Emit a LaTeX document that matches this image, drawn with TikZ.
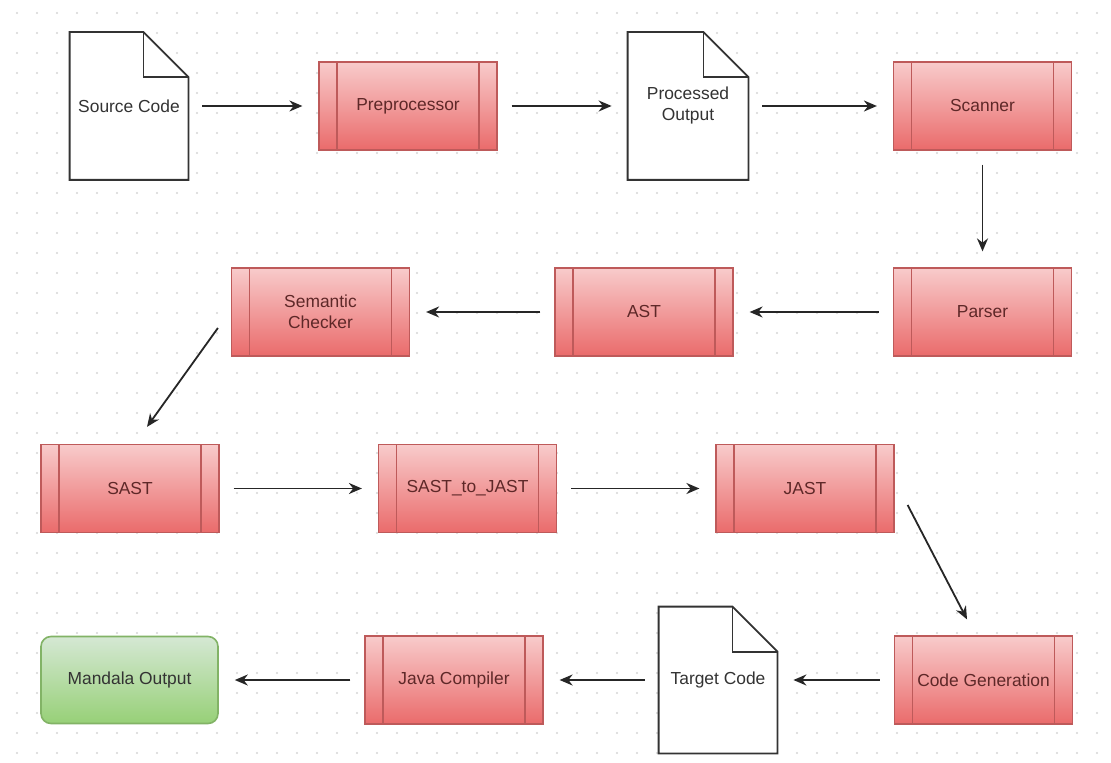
\documentclass[tikz,border=0pt]{standalone}
\usepackage{fontspec}
\setmainfont{Liberation Sans}
\usetikzlibrary{calc,arrows.meta}
\definecolor{redtop}{HTML}{F8CBCB}
\definecolor{redbot}{HTML}{EA6B6B}
\definecolor{redline}{HTML}{BE5A5A}
\definecolor{redtext}{HTML}{5E2828}
\definecolor{greentop}{HTML}{D5E8D4}
\definecolor{greenbot}{HTML}{97D077}
\definecolor{greenline}{HTML}{82B366}
\definecolor{doctext}{HTML}{333333}
\definecolor{griddot}{HTML}{D6D6D6}
\pgfdeclarelayer{gridlayer}
\pgfdeclarelayer{bglayer}
\pgfsetlayers{gridlayer,bglayer,main}
\begin{document}
\begin{tikzpicture}[x=0.5pt,y=-0.5pt,
  every node/.style={font=\fontsize{8.7}{10.5}\selectfont},
  procbox/.style={draw=redline, line width=0.6pt, top color=redtop, bottom color=redbot,
    minimum width=89pt, minimum height=44pt, inner sep=0pt, text=redtext, align=center,
    path picture={
      \draw[redline, line width=0.6pt] ($(path picture bounding box.north west)+(18,0)$) -- ($(path picture bounding box.south west)+(18,0)$);
      \draw[redline, line width=0.6pt] ($(path picture bounding box.north east)+(-18,0)$) -- ($(path picture bounding box.south east)+(-18,0)$);
    }},
  docbox/.style={minimum width=59pt, minimum height=73.5pt, inner sep=0pt, text=doctext, align=center},
  docline/.style={draw=doctext, fill=white, line width=0.9pt, line join=miter},
  okbox/.style={draw=greenline, line width=0.8pt, top color=greentop, bottom color=greenbot,
    rounded corners=5pt, minimum width=88.5pt, minimum height=43.5pt, inner sep=0pt, text=black!80},
  arr/.style={draw=black!85, line width=0.9pt, -{Stealth[length=6.5pt,width=5.5pt]}},
  gap/.style={shorten <=7pt, shorten >=8pt}
]
\begin{pgfonlayer}{gridlayer}
\fill[white] (0,0) rectangle (1111,763);
\foreach \gx in {17,37,...,1100}{
  \foreach \gy in {13,33,...,760}{
    \fill[griddot] (\gx,\gy) circle[radius=0.6pt];
  }
}
\end{pgfonlayer}
\useasboundingbox (0,0) rectangle (1111,763);

% documents
\node[docbox] (src) at (129,106) {Source Code};
\node[docbox, minimum width=60pt] (proc) at (688,106) {Processed\\Output};
\node[docbox, minimum height=73pt] (tgt) at (718,680) {Target Code};

% processes
\node[procbox] (pre) at (408,106) {Preprocessor};
\node[procbox] (scan) at (982.5,106) {Scanner};
\node[procbox] (parse) at (982.5,312) {Parser};
\node[procbox] (ast) at (644,312) {AST};
\node[procbox] (sem) at (320.5,312) {Semantic\\Checker};
\node[procbox] (sast) at (130,488.5) {SAST};
\node[procbox] (sj) at (467.5,488.5) {SAST\_to\_JAST};
\node[procbox] (jast) at (805,488.5) {JAST};
\node[procbox] (cg) at (983.5,680) {Code Generation};
\node[procbox] (java) at (454,680) {Java Compiler};
\node[okbox] (out) at (129.5,680) {Mandala Output};

\begin{pgfonlayer}{bglayer}
\foreach \n in {src,proc,tgt}{
  \draw[docline] (\n.north west) -- ($(\n.north east)+(-45,0)$) -- ($(\n.north east)+(0,45)$) -- (\n.south east) -- (\n.south west) -- cycle;
  \draw[docline, fill=none] ($(\n.north east)+(-45,0)$) -- ($(\n.north east)+(-45,45)$) -- ($(\n.north east)+(0,45)$);
}
\end{pgfonlayer}

% connectors
\draw[arr,gap] (src.east) -- (pre.west);
\draw[arr,gap] (pre.east) -- (proc.west);
\draw[arr,gap] (proc.east) -- (scan.west);
\draw[arr,gap] (scan.south) -- (parse.north);
\draw[arr,gap] (parse.west) -- (ast.east);
\draw[arr,gap] (ast.west) -- (sem.east);
\draw[arr] ($(sem.west)+(-13,16)$) -- ($(sast.north)+(17,-17)$);
\draw[arr,gap] (sast.east) -- (sj.west);
\draw[arr,gap] (sj.east) -- (jast.west);
\draw[arr] ($(jast.east)+(13,16.5)$) -- ($(cg.north)+(-16.5,-16)$);
\draw[arr,gap] (cg.west) -- (tgt.east);
\draw[arr,gap] (tgt.west) -- (java.east);
\draw[arr,gap] (java.west) -- (out.east);
\end{tikzpicture}
\end{document}
